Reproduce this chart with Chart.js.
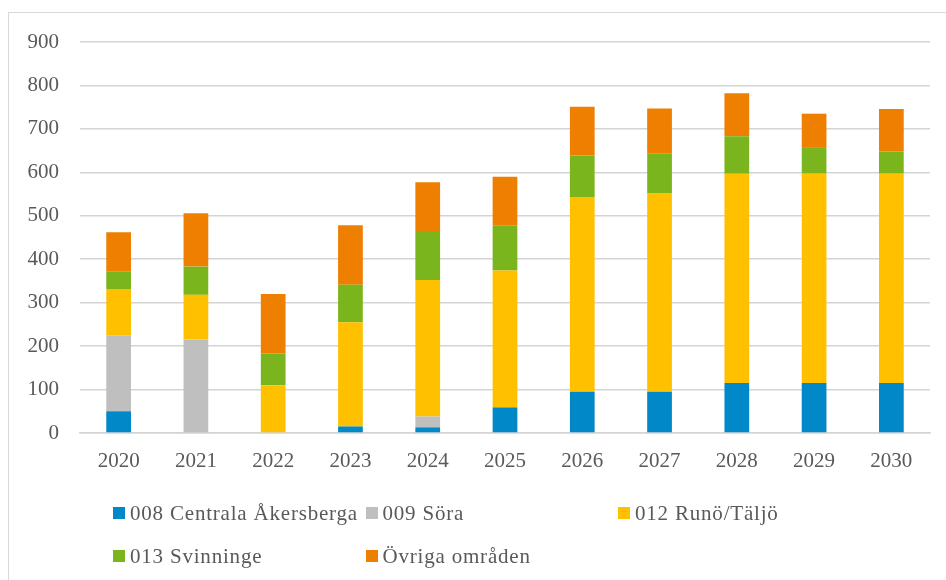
<!DOCTYPE html>
<html>
<head>
<meta charset="utf-8">
<script src="https://cdn.jsdelivr.net/npm/chart.js@4.4.1/dist/chart.umd.min.js"></script>
<style>
  html, body { margin: 0; padding: 0; background: #fff; }
  body { width: 946px; height: 580px; position: relative; overflow: hidden; }
  #frame { position: absolute; left: 8px; top: 12px; width: 1000px; height: 1000px; border: 1px solid #d9d9d9; box-sizing: border-box; }
  #wrap { position: absolute; left: 0; top: 0; width: 946px; height: 580px; }
  #legend { position: absolute; left: 113px; top: 500px; display: grid; grid-template-columns: 252.5px 252.5px 252.5px; row-gap: 17px;
            font-family: "Liberation Serif", "Times New Roman", serif; font-size: 21px; letter-spacing: 0.8px; color: #595959; }
  .item { display: flex; align-items: center; height: 26px; white-space: nowrap; }
  .box { width: 12px; height: 12px; margin-right: 5px; flex: none; }
</style>
</head>
<body>
<div id="frame"></div>
<div id="wrap"><canvas id="c" width="946" height="580"></canvas></div>
<div id="legend"></div>
<script>
const years = ["2020","2021","2022","2023","2024","2025","2026","2027","2028","2029","2030"];
const seriesNames = ["008 Centrala Åkersberga","009 Söra","012 Runö/Täljö","013 Svinninge","Övriga områden"];
const centralaAkersberga = [50, 0, 0, 15, 13, 59, 95, 95, 115, 115, 115];
const sora = [175, 215, 0, 0, 25, 0, 0, 0, 0, 0, 0];
const runoTaljo = [105, 103, 110, 240, 314, 315, 448, 456, 482, 482, 482];
const svinninge = [42, 65, 73, 86, 113, 104, 96, 92, 86, 61, 51];
const ovriga = [90, 123, 137, 137, 112, 112, 112, 104, 99, 77, 98];
const yTicks = [0, 100, 200, 300, 400, 500, 600, 700, 800, 900];

const colors = ["#0088C8", "#BFBFBF", "#FFC000", "#7AB51E", "#EE7F00"];
const values = [centralaAkersberga, sora, runoTaljo, svinninge, ovriga];

const FONT = "'Liberation Serif', 'Times New Roman', serif";
const TEXT = "#595959";

const chart = new Chart(document.getElementById('c'), {
  type: 'bar',
  data: {
    labels: years,
    datasets: seriesNames.map((n, i) => ({
      label: n, data: values[i], backgroundColor: colors[i], borderWidth: 0,
      categoryPercentage: 1.0, barPercentage: 0.32
    }))
  },
  options: {
    responsive: false,
    animation: false,
    layout: { padding: { top: 42, left: 0, right: 16, bottom: 0 } },
    plugins: { legend: { display: false }, tooltip: { enabled: false } },
    scales: {
      x: {
        stacked: true,
        grid: { display: false, drawTicks: false },
        border: { display: true, color: "#d4d4d4", width: 1.5 },
        ticks: { color: TEXT, font: { family: FONT, size: 21 }, padding: 16, maxRotation: 0 },
        afterFit: s => { s.height = 147; }
      },
      y: {
        stacked: true,
        min: 0, max: 900,
        afterBuildTicks: s => { s.ticks = yTicks.map(v => ({ value: v })); },
        grid: { color: "#d4d4d4", lineWidth: 1.5, drawTicks: false },
        border: { display: false },
        ticks: { color: TEXT, font: { family: FONT, size: 21 }, padding: 21 },
        afterFit: s => { s.width = 80; }
      }
    }
  }
});

const leg = document.getElementById('legend');
chart.data.datasets.forEach(d => {
  const el = document.createElement('div');
  el.className = 'item';
  const b = document.createElement('span');
  b.className = 'box';
  b.style.background = d.backgroundColor;
  const t = document.createElement('span');
  t.textContent = d.label;
  el.appendChild(b); el.appendChild(t);
  leg.appendChild(el);
});
</script>
</body>
</html>
